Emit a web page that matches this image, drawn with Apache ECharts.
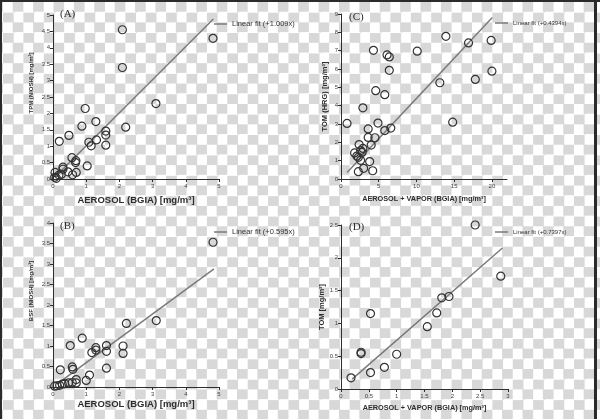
<!DOCTYPE html>
<html>
<head>
<meta charset="utf-8">
<script src="https://cdn.jsdelivr.net/npm/echarts@6/dist/echarts.min.js"></script>
<style>
    html, body { margin: 0; padding: 0; }
    body {
        width: 600px; height: 419px; overflow: hidden; position: relative;
        background: repeating-conic-gradient(#d8d8d8 0 25%, #ffffff 0 50%) 3px 2px / 20.4px 20.4px;
    }
    #chart { position: absolute; left: 0; top: 0; width: 600px; height: 419px; }
    .edge { position: absolute; background: #2b2b2b; }
</style>
</head>
<body>
<div id="chart"></div>
<div class="edge" style="left:0;top:0;width:600px;height:2px"></div>
<div class="edge" style="left:0;top:0;width:2px;height:419px"></div>
<div class="edge" style="left:594px;top:0;width:3px;height:419px"></div>
<script>
// (A) TPM (NIOSH) gegen AEROSOL (BGIA)
const pointsA = [
    [2.09, 4.55], [4.82, 4.29], [2.09, 3.40], [3.10, 2.30], [0.97, 2.15],
    [1.29, 1.75], [2.19, 1.58], [0.87, 1.61], [1.59, 1.46], [1.59, 1.34],
    [0.48, 1.33], [0.19, 1.15], [1.08, 1.12], [1.31, 1.19], [1.15, 1.01],
    [1.59, 1.03], [0.57, 0.65], [0.69, 0.56], [0.68, 0.50], [1.03, 0.40],
    [0.30, 0.36], [0.30, 0.30], [0.45, 0.22], [0.06, 0.20], [0.25, 0.14],
    [0.70, 0.20], [0.59, 0.13], [0.05, 0.05], [0.18, 0.12], [0.10, 0.02]
];
const fitA = [[0.15, 0.15], [4.83, 4.88]];

// (B) BSF (NIOSH) gegen AEROSOL (BGIA)
const pointsB = [
    [4.82, 3.53], [3.11, 1.62], [2.21, 1.55], [0.88, 1.19], [0.52, 1.01],
    [1.29, 0.96], [1.29, 0.90], [1.61, 1.01], [1.61, 0.87], [2.11, 1.00],
    [2.11, 0.82], [1.17, 0.84], [1.61, 0.46], [0.58, 0.49], [0.60, 0.43],
    [0.22, 0.42], [1.10, 0.29], [1.00, 0.16], [0.70, 0.18], [0.70, 0.10],
    [0.47, 0.10], [0.35, 0.08], [0.28, 0.07], [0.20, 0.04], [0.05, 0.02],
    [0.58, 0.11], [0.12, 0.03]
];
const fitB = [[0.15, 0.09], [4.85, 2.88]];

// (C) TOM (HRG) gegen AEROSOL + VAPOR (BGIA)
const pointsC = [
    [13.9, 7.78], [16.9, 7.42], [19.9, 7.56], [4.3, 7.02], [10.1, 6.97],
    [6.1, 6.77], [6.4, 6.66], [6.4, 5.93], [20.0, 5.88], [17.8, 5.43],
    [13.1, 5.25], [4.6, 4.82], [5.8, 4.60], [2.9, 3.88], [0.8, 3.03],
    [14.8, 3.10], [4.9, 3.05], [3.6, 2.73], [6.6, 2.78], [5.8, 2.64],
    [3.6, 2.27], [4.5, 2.25], [2.4, 1.88], [4.0, 1.85], [2.9, 1.67],
    [1.8, 1.42], [2.8, 1.45], [2.3, 1.18], [2.1, 1.25], [2.6, 1.02],
    [3.8, 0.95], [3.0, 0.58], [2.3, 0.40], [4.2, 0.45], [2.6, 1.55]
];
const fitC = [[0.8, 0.35], [20.05, 8.81]];

// (D) TOM gegen AEROSOL + VAPOR (BGIA)
const pointsD = [
    [2.41, 2.50], [2.87, 1.72], [1.94, 1.41], [1.81, 1.39], [1.72, 1.16],
    [1.55, 0.95], [0.53, 1.15], [0.36, 0.56], [0.36, 0.54], [1.00, 0.53],
    [0.78, 0.33], [0.53, 0.25], [0.18, 0.17]
];
const fitD = [[0.2, 0.15], [2.9, 2.15]];

const panelLabels = ['(A)', '(B)', '(C)', '(D)'];
const fitNames = ['Linear fit (+1.009x)', 'Linear fit (+0.595x)', 'Linear fit (+0.4394x)', 'Linear fit (+0.7397x)'];
const xNames = ['AEROSOL (BGIA) [mg/m³]', 'AEROSOL (BGIA) [mg/m³]', 'AEROSOL + VAPOR (BGIA) [mg/m³]', 'AEROSOL + VAPOR (BGIA) [mg/m³]'];
const yNames = ['TPM (NIOSH) [mg/m³]', 'BSF (NIOSH) [mg/m³]', 'TOM (HRG) [mg/m³]', 'TOM [mg/m³]'];
const xTicksC = [0, 5, 10, 15, 20];

const FONT = 'Liberation Sans';
const INK = '#2e2e2e';

// Raster der vier Diagramme
const grids = [
    { left: 53, top: 15, width: 166, height: 164 },
    { left: 53, top: 223, width: 166, height: 164 },
    { left: 341, top: 14, width: 166, height: 165 },
    { left: 341, top: 225, width: 167, height: 164 }
];
const xRange = [[0, 5, 1], [0, 5, 1], [0, 22, 5], [0, 3, 0.5]];
const yRange = [[0, 5, 0.5], [0, 4, 0.5], [0, 9, 1], [0, 2.5, 0.5]];

function makeX(i) {
    const big = i < 2;
    let ax = {
        type: 'value', gridIndex: i,
        min: xRange[i][0], max: xRange[i][1], interval: xRange[i][2],
        name: xNames[i], nameLocation: 'middle', nameGap: [16, 12, 16, 15][i],
        nameTextStyle: { fontFamily: FONT, fontWeight: 'bold', fontSize: big ? 9.5 : 7.3, color: INK },
        axisLine: { lineStyle: { color: INK, width: 1 } },
        axisTick: { length: 3, lineStyle: { color: INK } },
        axisLabel: { fontFamily: FONT, fontSize: 6, color: '#444', margin: 4 },
        splitLine: { show: false }
    };
    if (i === 2) {
        // Achse läuft bis 22, beschriftet nur bis 20
        ax.axisLabel.customValues = xTicksC;
        ax.axisTick.customValues = xTicksC;
    }
    return ax;
}

function makeY(i) {
    const big = i >= 2;
    return {
        type: 'value', gridIndex: i,
        min: yRange[i][0], max: yRange[i][1], interval: yRange[i][2],
        name: yNames[i], nameLocation: 'middle', nameGap: big ? 12 : 19,
        nameTextStyle: {
            fontFamily: FONT, fontWeight: 'bold', fontSize: big ? 7.5 : 6, color: INK,
            padding: big ? 0 : [0, 0, 0, 28]
        },
        axisLine: { lineStyle: { color: INK, width: 1 } },
        axisTick: { length: 3, lineStyle: { color: INK } },
        axisLabel: { fontFamily: FONT, fontSize: 6, color: '#444', margin: 3 },
        splitLine: { show: false }
    };
}

const pointSets = [pointsA, pointsB, pointsC, pointsD];
const fitSets = [fitA, fitB, fitC, fitD];

let series = [];
let legends = [];
let titles = [];
for (let i = 0; i < 4; i++) {
    series.push({
        type: 'scatter', xAxisIndex: i, yAxisIndex: i,
        data: pointSets[i], symbol: 'circle', symbolSize: 8,
        itemStyle: { color: 'rgba(0,0,0,0)', borderColor: '#333', borderWidth: 1.2, opacity: 1 },
        z: 3
    });
    series.push({
        type: 'line', name: fitNames[i], xAxisIndex: i, yAxisIndex: i,
        data: fitSets[i], symbol: 'none',
        lineStyle: { color: '#7a7a7a', width: 1.5 },
        itemStyle: { color: '#7a7a7a' },
        z: 2
    });
    const small = i >= 2;
    legends.push({
        data: [fitNames[i]],
        left: i < 2 ? 214 : 495,
        top: [20, 228, 20, 229][i],
        padding: 0,
        icon: 'rect', itemWidth: 13, itemHeight: 1.5,
        selectedMode: false,
        textStyle: { fontFamily: FONT, fontSize: small ? 6 : 7.5, color: '#333' }
    });
    titles.push({
        text: panelLabels[i],
        left: i < 2 ? 60 : 349,
        top: [9, 221, 12, 222][i],
        padding: 0,
        textStyle: { fontFamily: 'Liberation Serif', fontWeight: 'normal', fontSize: 11, color: INK }
    });
}

let chart = echarts.init(document.getElementById('chart'), null, { renderer: 'canvas' });
chart.setOption({
    animation: false,
    title: titles,
    legend: legends,
    grid: grids,
    xAxis: [0, 1, 2, 3].map(makeX),
    yAxis: [0, 1, 2, 3].map(makeY),
    series: series
});
</script>
</body>
</html>
